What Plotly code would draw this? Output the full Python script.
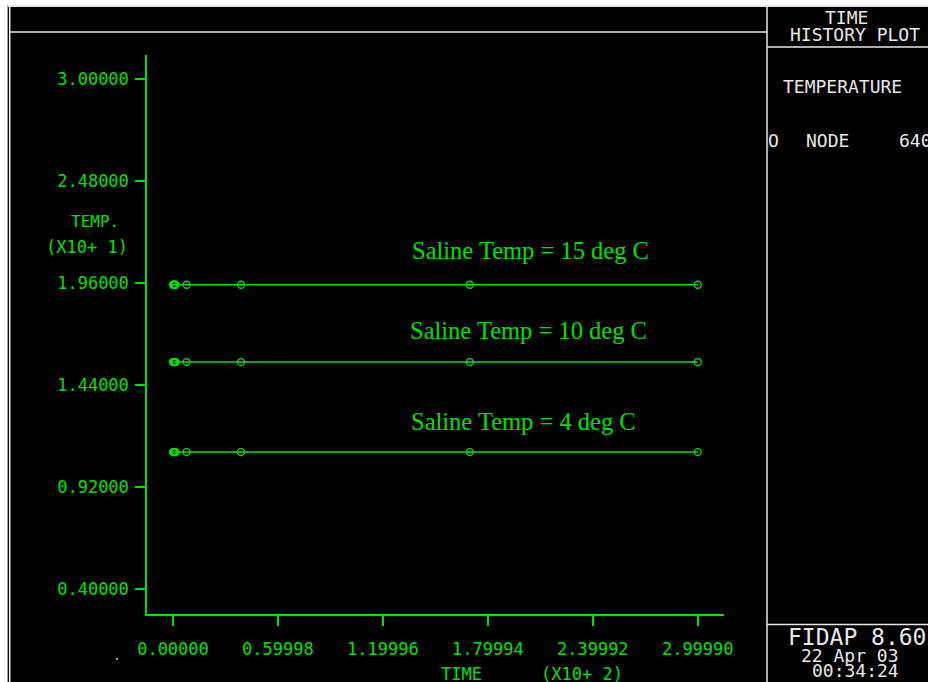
import plotly.graph_objects as go

# ---- data (time in units of 10^2, temperature in units of 10^1) ----
time_vals = [0.0, 0.005, 0.010, 0.015, 0.078, 0.389, 1.697, 2.9999]
temp_15 = [1.951, 1.951, 1.951, 1.951, 1.951, 1.951, 1.951, 1.951]
temp_10 = [1.557, 1.557, 1.557, 1.557, 1.557, 1.557, 1.557, 1.557]
temp_4 = [1.098, 1.098, 1.098, 1.098, 1.098, 1.098, 1.098, 1.098]
series_labels = ["Saline Temp = 15 deg C", "Saline Temp = 10 deg C", "Saline Temp = 4 deg C"]

x_tick_vals = [0.0, 0.59998, 1.19996, 1.79994, 2.39992, 2.99990]
x_tick_text = ["0.00000", "0.59998", "1.19996", "1.79994", "2.39992", "2.99990"]
y_tick_vals = [0.40, 0.92, 1.44, 1.96, 2.48, 3.00]
y_tick_text = ["0.40000", "0.92000", "1.44000", "1.96000", "2.48000", "3.00000"]

W, H = 928, 682
GREEN = "#00e000"
WHITE = "#e8e8e8"
MONO = "DejaVu Sans Mono"


def px(x):
    return x / W


def py(y):
    return 1 - y / H


fig = go.Figure()
for vals in (temp_15, temp_10, temp_4):
    fig.add_trace(go.Scatter(
        x=time_vals, y=vals, mode="lines+markers",
        line=dict(color=GREEN, width=1.5),
        marker=dict(symbol="circle-open", size=7, color=GREEN, line=dict(width=1.3, color=GREEN)),
        showlegend=False, hoverinfo="skip"))

shapes = []
# white margins at the left and top of the screen capture
shapes.append(dict(type="rect", xref="paper", yref="paper", x0=0, x1=px(7), y0=0, y1=1,
                   fillcolor="white", line=dict(width=0), layer="above"))
shapes.append(dict(type="rect", xref="paper", yref="paper", x0=0, x1=1, y0=py(5), y1=1,
                   fillcolor="white", line=dict(width=0), layer="above"))
# small grey speck left of the x tick labels
shapes.append(dict(type="rect", xref="paper", yref="paper", x0=px(116), x1=px(118), y0=py(660), y1=py(658),
                   fillcolor="#9a9a9a", line=dict(width=0), layer="above"))


def hline(x0, x1, y, color=WHITE, w=2):
    shapes.append(dict(type="line", xref="paper", yref="paper", x0=px(x0), x1=px(x1),
                       y0=py(y), y1=py(y), line=dict(color=color, width=w), layer="above"))


def vline(x, y0, y1, color=WHITE, w=2):
    shapes.append(dict(type="line", xref="paper", yref="paper", x0=px(x), x1=px(x),
                       y0=py(y0), y1=py(y1), line=dict(color=color, width=w), layer="above"))


hline(7, 928, 6)
hline(9, 767, 32, w=1.5)
hline(767, 928, 47, w=1.5)
hline(767, 928, 624.5, w=1.5)
vline(7.5, 5, 682, color="#a0a0a0", w=1)
vline(9.7, 5, 682, color="#f0f0f0", w=1.5)
vline(767, 5, 682, w=1.5)

ann = []


def text(t, x, y, size, color, font=MONO, xanchor="center"):
    ann.append(dict(text=t, x=px(x), y=py(y), xref="paper", yref="paper", showarrow=False,
                    xanchor=xanchor, yanchor="middle",
                    font=dict(family=font, size=size, color=color)))


# series labels
text(series_labels[0], 410, 250, 24.5, GREEN, font="Liberation Serif", xanchor="left")
text(series_labels[1], 408, 330, 24.5, GREEN, font="Liberation Serif", xanchor="left")
text(series_labels[2], 409, 421, 24.5, GREEN, font="Liberation Serif", xanchor="left")

# axis titles
text("TEMP.", 95, 222, 16, GREEN)
text("(X10+ 1)", 87, 247, 17, GREEN)
text("TIME", 461, 674, 17, GREEN)
text("(X10+ 2)", 582, 674, 17, GREEN)

# right panel
text("TIME", 846, 18, 18, WHITE)
text("HISTORY PLOT", 788, 35, 18, WHITE, xanchor="left")
text("TEMPERATURE", 781, 86, 18, WHITE, xanchor="left")
text("O", 773, 140, 18, WHITE)
text("NODE", 804, 140, 18, WHITE, xanchor="left")
text("640", 897, 140, 18, WHITE, xanchor="left")
text("FIDAP 8.60", 786, 637, 23, WHITE, xanchor="left")
text("22 Apr 03", 799, 655, 18, WHITE, xanchor="left")
text("00:34:24", 810, 670, 18, WHITE, xanchor="left")

fig.update_layout(
    width=W, height=H, autosize=False,
    margin=dict(l=0, r=0, t=0, b=0, autoexpand=False),
    paper_bgcolor="black", plot_bgcolor="black",
    shapes=shapes, annotations=ann,
    xaxis=dict(domain=[px(147), px(724)], range=[-0.1486, 3.150], automargin=False,
               showgrid=False, zeroline=False, showline=True, linecolor=GREEN, linewidth=1.5,
               ticks="outside", ticklen=10, tickwidth=1.5, tickcolor=GREEN,
               tickvals=x_tick_vals, ticktext=x_tick_text, ticklabelstandoff=9,
               tickfont=dict(family=MONO, size=17, color=GREEN)),
    yaxis=dict(domain=[py(614), py(55)], range=[0.2725, 3.1224], automargin=False,
               showgrid=False, zeroline=False, showline=True, linecolor=GREEN, linewidth=1.5,
               ticks="outside", ticklen=10, tickwidth=1.5, tickcolor=GREEN,
               tickvals=y_tick_vals, ticktext=y_tick_text, ticklabelstandoff=3,
               tickfont=dict(family=MONO, size=17, color=GREEN)),
)

post = """
document.documentElement.style.margin='0px';
document.documentElement.style.overflow='hidden';
document.body.style.margin='0px';
document.body.style.overflow='hidden';
"""

fig.write_html(
    "out.html",
    config={"displayModeBar": False, "responsive": False},
    post_script=post,
)
